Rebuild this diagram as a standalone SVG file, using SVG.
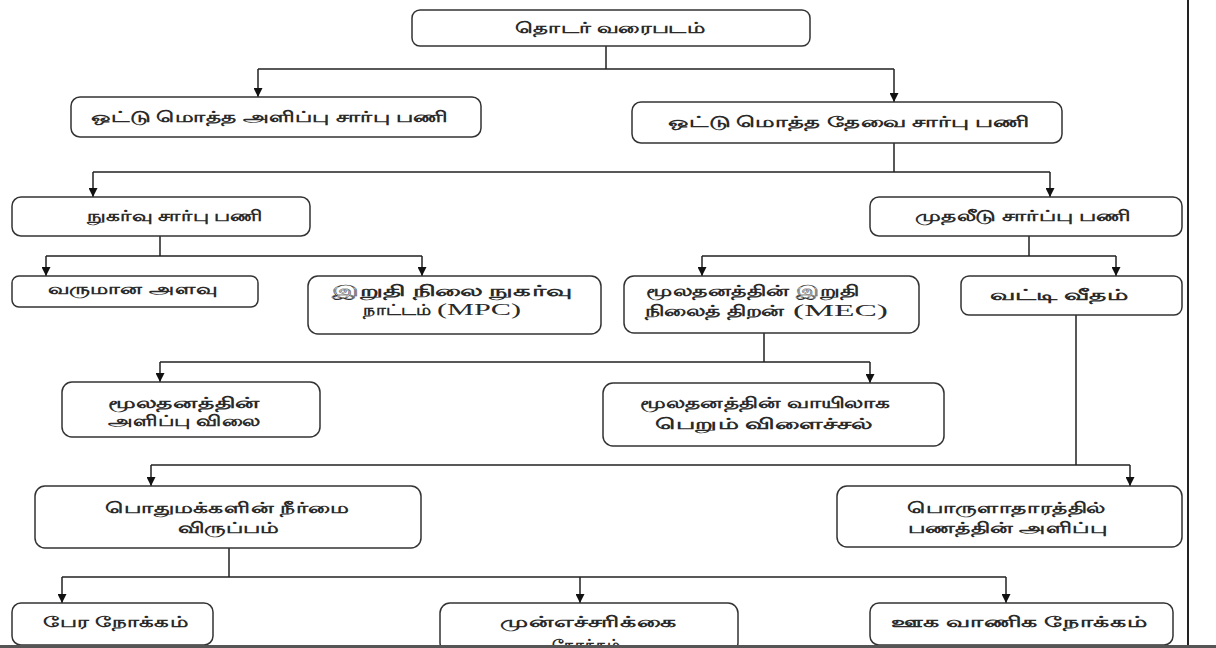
<svg xmlns="http://www.w3.org/2000/svg" width="1216" height="648" viewBox="0 0 1216 648">
<style>
.box{fill:#fff;stroke:#333;stroke-width:1.5}
.t{font-family:"Noto Sans","DejaVu Sans",sans-serif;font-size:15px;font-weight:bold;fill:#2a2a2a}
.s{font-family:"Liberation Serif","Times New Roman",serif;font-size:16px;fill:#2a2a2a}
.c{fill:none;stroke:#222;stroke-width:1.5}
</style>
<defs>
<marker id="ah" viewBox="0 0 10 10" refX="10" refY="5" markerWidth="9" markerHeight="9" markerUnits="userSpaceOnUse" orient="auto">
<path d="M0,0 L10,5 L0,10 z" fill="#111"/>
</marker>
</defs>
<rect width="1216" height="648" fill="#fff"/>
<g id="connectors">
<path class="c" d="M606,46 V69 M258,69 H894"/>
<path class="c" d="M258,69 V97" marker-end="url(#ah)"/>
<path class="c" d="M894,69 V102" marker-end="url(#ah)"/>
<path class="c" d="M894,143 V172 M93,172 H1050"/>
<path class="c" d="M93,172 V197" marker-end="url(#ah)"/>
<path class="c" d="M1050,172 V197" marker-end="url(#ah)"/>
<path class="c" d="M160,236 V256 M46,256 H422"/>
<path class="c" d="M46,256 V276" marker-end="url(#ah)"/>
<path class="c" d="M422,256 V276" marker-end="url(#ah)"/>
<path class="c" d="M1029,236 V256 M702,256 H1116"/>
<path class="c" d="M702,256 V276" marker-end="url(#ah)"/>
<path class="c" d="M1116,256 V276" marker-end="url(#ah)"/>
<path class="c" d="M764,333 V362 M160,362 H870"/>
<path class="c" d="M160,362 V382" marker-end="url(#ah)"/>
<path class="c" d="M870,362 V383" marker-end="url(#ah)"/>
<path class="c" d="M1076,315 V465 M151,465 H1130"/>
<path class="c" d="M151,465 V486" marker-end="url(#ah)"/>
<path class="c" d="M1130,465 V486" marker-end="url(#ah)"/>
<path class="c" d="M229,548 V577 M62,577 H1006"/>
<path class="c" d="M62,577 V603" marker-end="url(#ah)"/>
<path class="c" d="M580,577 V603" marker-end="url(#ah)"/>
<path class="c" d="M1006,577 V603" marker-end="url(#ah)"/>
</g>
<g id="nA"><rect class="box" x="412" y="10" width="398" height="36" rx="8"/><text class="t" x="515" y="33" textLength="190" lengthAdjust="spacingAndGlyphs">தொடர் வரைபடம்</text></g>
<g id="nB"><rect class="box" x="71" y="97" width="410" height="40" rx="9"/><text class="t" x="91" y="122" textLength="356" lengthAdjust="spacingAndGlyphs">ஒட்டு மொத்த அளிப்பு சார்பு பணி</text></g>
<g id="nC"><rect class="box" x="632" y="102" width="430" height="41" rx="9"/><text class="t" x="668" y="127" textLength="361" lengthAdjust="spacingAndGlyphs">ஒட்டு மொத்த தேவை சார்பு பணி</text></g>
<g id="nD"><rect class="box" x="12" y="197" width="298" height="39" rx="9"/><text class="t" x="87" y="221" textLength="175" lengthAdjust="spacingAndGlyphs">நுகர்வு சார்பு பணி</text></g>
<g id="nE"><rect class="box" x="870" y="197" width="312" height="39" rx="9"/><text class="t" x="915" y="221" textLength="215" lengthAdjust="spacingAndGlyphs">முதலீடு சார்ப்பு பணி</text></g>
<g id="nF"><rect class="box" x="12" y="276" width="246" height="31" rx="7"/><text class="t" x="48" y="294" textLength="169" lengthAdjust="spacingAndGlyphs">வருமான அளவு</text></g>
<g id="nG"><rect class="box" x="308" y="276" width="293" height="58" rx="10"/><text class="t" x="332" y="296" textLength="240" lengthAdjust="spacingAndGlyphs">இறுதி நிலை நுகர்வு</text><text class="t" x="363" y="315" textLength="68" lengthAdjust="spacingAndGlyphs">நாட்டம்</text><text class="s" x="437" y="315" textLength="84" lengthAdjust="spacingAndGlyphs">(MPC)</text></g>
<g id="nH"><rect class="box" x="624" y="276" width="295" height="57" rx="10"/><text class="t" x="646" y="296" textLength="213" lengthAdjust="spacingAndGlyphs">மூலதனத்தின் இறுதி</text><text class="t" x="645" y="316" textLength="140" lengthAdjust="spacingAndGlyphs">நிலைத் திறன்</text><text class="s" x="793" y="316" textLength="95" lengthAdjust="spacingAndGlyphs">(MEC)</text></g>
<g id="nI"><rect class="box" x="961" y="276" width="221" height="39" rx="8"/><text class="t" x="990" y="300" textLength="138" lengthAdjust="spacingAndGlyphs">வட்டி வீதம்</text></g>
<g id="nJ"><rect class="box" x="62" y="382" width="258" height="55" rx="10"/><text class="t" x="108" y="408" textLength="152" lengthAdjust="spacingAndGlyphs">மூலதனத்தின்</text><text class="t" x="108" y="426" textLength="152" lengthAdjust="spacingAndGlyphs">அளிப்பு விலை</text></g>
<g id="nK"><rect class="box" x="603" y="383" width="341" height="63" rx="10"/><text class="t" x="640" y="408" textLength="251" lengthAdjust="spacingAndGlyphs">மூலதனத்தின் வாயிலாக</text><text class="t" x="655" y="429" textLength="217" lengthAdjust="spacingAndGlyphs">பெறும் விளைச்சல்</text></g>
<g id="nL"><rect class="box" x="35" y="486" width="386" height="62" rx="10"/><text class="t" x="105" y="513" textLength="244" lengthAdjust="spacingAndGlyphs">பொதுமக்களின் நீர்மை</text><text class="t" x="178" y="533" textLength="101" lengthAdjust="spacingAndGlyphs">விருப்பம்</text></g>
<g id="nM"><rect class="box" x="837" y="486" width="345" height="61" rx="10"/><text class="t" x="907" y="513" textLength="198" lengthAdjust="spacingAndGlyphs">பொருளாதாரத்தில்</text><text class="t" x="908" y="533" textLength="199" lengthAdjust="spacingAndGlyphs">பணத்தின் அளிப்பு</text></g>
<g id="nN"><rect class="box" x="12" y="603" width="201" height="42" rx="9"/><text class="t" x="43" y="627" textLength="145" lengthAdjust="spacingAndGlyphs">பேர நோக்கம்</text></g>
<g id="nO"><rect class="box" x="440" y="603" width="298" height="50" rx="10"/><text class="t" x="500" y="627" textLength="177" lengthAdjust="spacingAndGlyphs">முன்எச்சரிக்கை</text><text class="t" x="552" y="650" textLength="68" lengthAdjust="spacingAndGlyphs">நோக்கம்</text></g>
<g id="nP"><rect class="box" x="870" y="603" width="303" height="42" rx="9"/><text class="t" x="891" y="627" textLength="256" lengthAdjust="spacingAndGlyphs">ஊக வாணிக நோக்கம்</text></g>
<g id="frame">
<line x1="1188" y1="0" x2="1188" y2="646" stroke="#222" stroke-width="2"/>
<rect x="0" y="645" width="1216" height="3" fill="#555"/>
</g>
</svg>
